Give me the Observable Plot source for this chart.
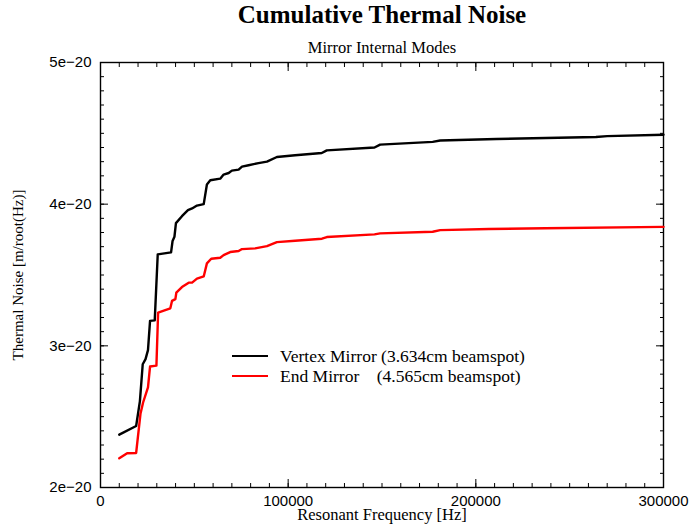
<!DOCTYPE html>
<html><head><meta charset="utf-8">
<script src="https://cdn.jsdelivr.net/npm/d3@7"></script>
<script src="https://cdn.jsdelivr.net/npm/@observablehq/plot@0.6"></script>
<style>
body{margin:0;background:#fff;}
#wrap{position:relative;width:691px;height:529px;}
.legend{position:absolute;left:232px;top:346px;font:17.5px "Liberation Serif",serif;color:#000;}
.row{height:20px;line-height:20px;white-space:pre;display:flex;align-items:center;}
.sw{display:inline-block;width:36px;height:0;border-top:2.4px solid;margin-right:12px;}
</style></head><body><div id="wrap"></div>
<script>
// Values in units of 1e-20 m/root(Hz)
const freqVertex = [10000, 19000, 21000, 22500, 24000, 25300, 26400, 28900, 30500, 37600, 38400, 39400, 40200, 43400, 46600, 48800, 51400, 55000, 56700, 58500, 63800, 65600, 68300, 70000, 73600, 75400, 78900, 84200, 88700, 94000, 103700, 117900, 120600, 146000, 149000, 177000, 181000, 211000, 264000, 270000, 300000];
const noiseVertex = [2.373, 2.434, 2.61, 2.87, 2.906, 2.97, 3.176, 3.18, 3.646, 3.66, 3.74, 3.77, 3.866, 3.915, 3.958, 3.97, 3.99, 4.0, 4.139, 4.169, 4.18, 4.209, 4.22, 4.237, 4.244, 4.265, 4.275, 4.29, 4.30, 4.333, 4.345, 4.361, 4.38, 4.40, 4.42, 4.44, 4.449, 4.46, 4.474, 4.48, 4.49];
const freqEnd = [10000, 14200, 19000, 21300, 22700, 25300, 26400, 29800, 30700, 37200, 38100, 39900, 40400, 43400, 47000, 48800, 51400, 55000, 56700, 59000, 63800, 65600, 69100, 73600, 75400, 82400, 88700, 94000, 103700, 118000, 120600, 146000, 149000, 177000, 181000, 207000, 237000, 300000];
const noiseEnd = [2.206, 2.242, 2.244, 2.52, 2.60, 2.706, 2.854, 2.86, 3.235, 3.265, 3.317, 3.33, 3.375, 3.415, 3.446, 3.446, 3.474, 3.49, 3.582, 3.615, 3.622, 3.64, 3.662, 3.669, 3.683, 3.688, 3.704, 3.732, 3.742, 3.756, 3.768, 3.787, 3.794, 3.805, 3.817, 3.825, 3.83, 3.84];
const seriesNames = ["Vertex Mirror (3.634cm beamspot)", "End Mirror\u00a0\u00a0\u00a0\u00a0(4.565cm beamspot)"];
const seriesColors = ["#000000", "#ff0000"];
const xMajor = [0, 100000, 200000, 300000];
const yMajor = [2, 3, 4, 5];
const xMinor = d3.range(0, 300001, 10000);
const yMinor = d3.range(20, 51).map(d => d / 10);

const vertex = freqVertex.map((f, i) => ({f, v: noiseVertex[i]}));
const endm = freqEnd.map((f, i) => ({f, v: noiseEnd[i]}));
const fmtY = d => `${d}e\u221220`;
const blank = () => "";

const serif = "Liberation Serif";
const plot = Plot.plot({
  width: 691, height: 529,
  marginLeft: 100, marginRight: 28, marginTop: 62, marginBottom: 42,
  style: {background: "#fff", fontFamily: "Liberation Sans", fontSize: "15px", color: "#000"},
  x: {domain: [0, 300000]},
  y: {domain: [2, 5]},
  marks: [
    Plot.axisX(xMinor, {anchor: "bottom", tickSize: -4, tickFormat: blank, label: null}),
    Plot.axisX(xMinor, {anchor: "top", tickSize: -4, tickFormat: blank, label: null}),
    Plot.axisX(xMajor, {anchor: "bottom", tickSize: -8, tickFormat: blank, label: null}),
    Plot.axisX(xMajor, {anchor: "top", tickSize: -8, tickFormat: blank, label: null}),
    Plot.axisX(xMajor, {anchor: "bottom", tickSize: 0, tickPadding: 8, tickFormat: d => String(d), label: null, fontSize: 15}),
    Plot.axisY(yMinor, {anchor: "left", tickSize: -4, tickFormat: blank, label: null}),
    Plot.axisY(yMinor, {anchor: "right", tickSize: -4, tickFormat: blank, label: null}),
    Plot.axisY(yMajor, {anchor: "left", tickSize: -8, tickFormat: blank, label: null}),
    Plot.axisY(yMajor, {anchor: "right", tickSize: -8, tickFormat: blank, label: null}),
    Plot.axisY(yMajor, {anchor: "left", tickSize: 0, tickPadding: 9, tickFormat: fmtY, label: null, fontSize: 15}),
    Plot.frame({stroke: "#000", strokeWidth: 1.4}),
    Plot.line(vertex, {x: "f", y: "v", stroke: seriesColors[0], strokeWidth: 2.4}),
    Plot.line(endm, {x: "f", y: "v", stroke: seriesColors[1], strokeWidth: 2.4}),
    Plot.text(["Cumulative Thermal Noise"], {frameAnchor: "top", dy: -57, fontSize: 25, fontWeight: "bold", fontFamily: serif}),
    Plot.text(["Mirror Internal Modes"], {frameAnchor: "top", dy: -21, fontSize: 16.5, fontFamily: serif}),
    Plot.text(["Resonant Frequency [Hz]"], {frameAnchor: "bottom", dy: 32, fontSize: 16.5, fontFamily: serif}),
    Plot.text(["Thermal Noise [m/root(Hz)]"], {frameAnchor: "left", textAnchor: "middle", dx: -82, rotate: -90, fontSize: 15, fontFamily: serif})
  ]
});
const wrap = document.getElementById("wrap");
wrap.appendChild(plot);
const leg = document.createElement("div");
leg.className = "legend";
seriesNames.forEach((n, i) => {
  const r = document.createElement("div");
  r.className = "row";
  const s = document.createElement("span");
  s.className = "sw";
  s.style.borderTopColor = seriesColors[i];
  r.appendChild(s);
  r.appendChild(document.createTextNode(n));
  leg.appendChild(r);
});
wrap.appendChild(leg);
</script></body></html>
